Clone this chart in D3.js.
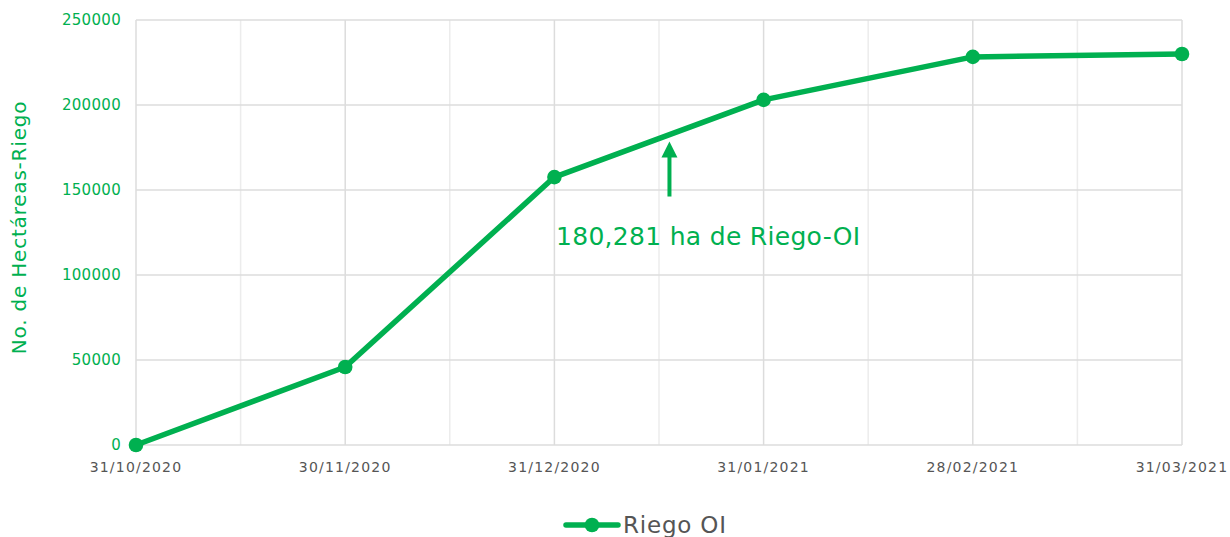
<!DOCTYPE html>
<html>
<head>
<meta charset="utf-8">
<script src="https://cdn.jsdelivr.net/npm/d3@7.9.0/dist/d3.min.js"></script>
<style>
  body { margin: 0; background: #fff; }
  svg { display: block; font-family: "DejaVu Sans", sans-serif; }
</style>
</head>
<body>
<svg id="chart" width="1230" height="537"></svg>
<script>
const fechas = ['31/10/2020', '30/11/2020', '31/12/2020', '31/01/2021', '28/02/2021', '31/03/2021'];
const riegoOI = [0, 45900, 157600, 203000, 228300, 230000];
const yTicks = [0, 50000, 100000, 150000, 200000, 250000];
const serieNombre = 'Riego OI';
const nota = { texto: '180,281 ha de Riego-OI', entre: 2.55, valor: 180281 };

const green = '#00b050';
const svg = d3.select('#chart');

const x = d3.scalePoint().domain(fechas).range([136, 1182]);
const y = d3.scaleLinear().domain([0, 250000]).range([445, 20]);
const step = x.step();

// minor vertical grid (mid points)
svg.append('g')
    .selectAll('line')
    .data(fechas.slice(1))
    .join('line')
    .attr('x1', (d) => x(d) - step / 2)
    .attr('x2', (d) => x(d) - step / 2)
    .attr('y1', y(250000))
    .attr('y2', y(0))
    .attr('stroke', '#ececec')
    .attr('stroke-width', 1.5);

// major vertical grid
svg.append('g')
    .selectAll('line')
    .data(fechas)
    .join('line')
    .attr('x1', (d) => x(d))
    .attr('x2', (d) => x(d))
    .attr('y1', y(250000))
    .attr('y2', y(0))
    .attr('stroke', '#dcdcdc')
    .attr('stroke-width', 1.5);

// horizontal grid
svg.append('g')
    .selectAll('line')
    .data(yTicks)
    .join('line')
    .attr('x1', x.range()[0])
    .attr('x2', x.range()[1])
    .attr('y1', (d) => y(d))
    .attr('y2', (d) => y(d))
    .attr('stroke', '#dcdcdc')
    .attr('stroke-width', 1.5);

// y labels
svg.append('g')
    .selectAll('text')
    .data(yTicks)
    .join('text')
    .attr('x', 121)
    .attr('y', (d) => y(d) + 5)
    .attr('text-anchor', 'end')
    .attr('fill', green)
    .attr('font-size', 15)
    .attr('letter-spacing', 0.3)
    .text((d) => d);

// x labels
svg.append('g')
    .selectAll('text')
    .data(fechas)
    .join('text')
    .attr('x', (d) => x(d))
    .attr('y', 472)
    .attr('text-anchor', 'middle')
    .attr('fill', '#555')
    .attr('font-size', 14)
    .attr('letter-spacing', 1.2)
    .text((d) => d);

// y axis title
svg.append('text')
    .attr('transform', `translate(26, ${y(125000) - 5}) rotate(-90)`)
    .attr('text-anchor', 'middle')
    .attr('fill', green)
    .attr('font-size', 20)
    .attr('letter-spacing', 0.8)
    .text('No. de Hectáreas-Riego');

// line
const line = d3.line()
    .x((d, i) => x(fechas[i]))
    .y((d) => y(d));

svg.append('path')
    .datum(riegoOI)
    .attr('d', line)
    .attr('fill', 'none')
    .attr('stroke', green)
    .attr('stroke-width', 5.5)
    .attr('stroke-linejoin', 'round');

svg.append('g')
    .selectAll('circle')
    .data(riegoOI)
    .join('circle')
    .attr('cx', (d, i) => x(fechas[i]))
    .attr('cy', (d) => y(d))
    .attr('r', 7.3)
    .attr('fill', green);

// annotation arrow
const ax = x(fechas[0]) + nota.entre * step;
const ay = y(nota.valor);
svg.append('line')
    .attr('x1', ax).attr('x2', ax)
    .attr('y1', ay + 58).attr('y2', ay + 16)
    .attr('stroke', green)
    .attr('stroke-width', 4);
svg.append('path')
    .attr('d', `M${ax - 8},${ay + 19} L${ax},${ay + 3} L${ax + 8},${ay + 19} Z`)
    .attr('fill', green);
svg.append('text')
    .attr('x', 556)
    .attr('y', 245)
    .attr('fill', green)
    .attr('font-size', 25)
    .attr('letter-spacing', 0.3)
    .text(nota.texto);

// legend
svg.append('line')
    .attr('x1', 566).attr('x2', 618)
    .attr('y1', 525).attr('y2', 525)
    .attr('stroke', green)
    .attr('stroke-width', 5.5)
    .attr('stroke-linecap', 'round');
svg.append('circle')
    .attr('cx', 592).attr('cy', 525).attr('r', 7.3)
    .attr('fill', green);
svg.append('text')
    .attr('x', 623)
    .attr('y', 533)
    .attr('fill', '#555')
    .attr('font-size', 23)
    .attr('letter-spacing', 0.8)
    .text(serieNombre);
</script>
</body>
</html>
